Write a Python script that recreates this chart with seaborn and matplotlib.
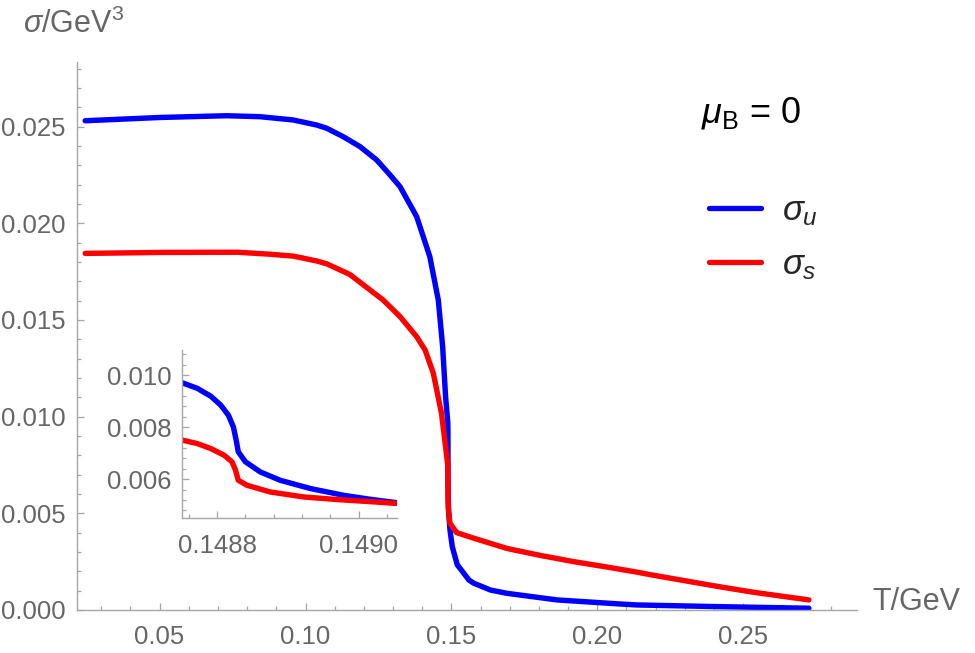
import matplotlib
matplotlib.use("Agg")
import pandas as pd
import seaborn as sns
from matplotlib import pyplot as plt
from matplotlib.ticker import MultipleLocator, FormatStrFormatter

# values
T_u = [0.0245, 0.0502, 0.0730, 0.0844, 0.0958, 0.1038, 0.1073, 0.1130, 0.1187,
       0.1244, 0.1266, 0.1290, 0.1324, 0.1381, 0.1426, 0.1455, 0.1470, 0.1480, 0.14875,
       0.14880, 0.148816, 0.148827, 0.148840, 0.148889, 0.148979, 0.149053,
       0.1495, 0.1503, 0.1520, 0.1560, 0.1577, 0.1634, 0.1691, 0.1862, 0.2077,
       0.2135, 0.2421, 0.2725]
sigma_u = [0.02530, 0.02547, 0.02556, 0.02551, 0.02534, 0.02508, 0.02491, 0.02447, 0.02396,
           0.02327, 0.02290, 0.02249, 0.02189, 0.02034, 0.01827, 0.01603, 0.01361, 0.01103, 0.00970,
           0.00919, 0.00846, 0.00750, 0.00667, 0.00596, 0.00538, 0.00510,
           0.00414, 0.00327, 0.00234, 0.00155, 0.00138, 0.00103, 0.00086, 0.00052, 0.00031,
           0.00026, 0.00017, 0.00009]

T_s = [0.0245, 0.0502, 0.0767, 0.0876, 0.0958, 0.1038, 0.1073, 0.1152, 0.1266, 0.1324, 0.1381,
       0.1410, 0.1438, 0.1466, 0.148751, 0.148810, 0.148821, 0.148830, 0.148875,
       0.148969, 0.149053, 0.1495, 0.1518, 0.1577, 0.1691, 0.1805, 0.1919,
       0.2033, 0.2135, 0.2191, 0.2305, 0.2419, 0.2534, 0.2648, 0.2725]
sigma_s = [0.01844, 0.01849, 0.01850, 0.01840, 0.01830, 0.01805, 0.01790, 0.01735, 0.01603,
           0.01517, 0.01413, 0.01344, 0.01224, 0.01017, 0.00750, 0.00692, 0.00667, 0.00596,
           0.00551, 0.00522, 0.00507, 0.00448, 0.00400, 0.00371, 0.00318, 0.00282, 0.00250,
           0.00222, 0.00196, 0.00180, 0.00150, 0.00120, 0.00092, 0.00068, 0.00052]

# zoom around the transition (inset)
T_in_u = [0.148751, 0.148772, 0.148791, 0.148805, 0.148816, 0.148823, 0.148827, 0.148830,
          0.148840, 0.148861, 0.148889, 0.148932, 0.148979, 0.149016, 0.149053]
sig_in_u = [0.00970, 0.00949, 0.00919, 0.00885, 0.00846, 0.00801, 0.00750, 0.00705,
            0.00667, 0.00628, 0.00596, 0.00564, 0.00538, 0.00523, 0.00510]
T_in_s = [0.148751, 0.148772, 0.148791, 0.148810, 0.148821, 0.148826, 0.148830, 0.148842,
          0.148875, 0.148922, 0.148969, 0.149016, 0.149053]
sig_in_s = [0.00750, 0.00737, 0.00718, 0.00692, 0.00667, 0.00635, 0.00596, 0.00577,
            0.00551, 0.00532, 0.00522, 0.00514, 0.00507]

labels = [r"$\sigma_u$", r"$\sigma_s$"]
colors = {labels[0]: "#0000ff", labels[1]: "#ff0000"}

main_df = pd.concat([
    pd.DataFrame({"T": T_u, "sigma": sigma_u, "q": labels[0]}),
    pd.DataFrame({"T": T_s, "sigma": sigma_s, "q": labels[1]}),
])
inset_df = pd.concat([
    pd.DataFrame({"T": T_in_u, "sigma": sig_in_u, "q": labels[0]}),
    pd.DataFrame({"T": T_in_s, "sigma": sig_in_s, "q": labels[1]}),
])

sns.set_style("ticks")
plt.rcParams["font.family"] = ["Liberation Sans", "DejaVu Sans"]
plt.rcParams["mathtext.fontset"] = "custom"
plt.rcParams["mathtext.rm"] = "Liberation Sans"
plt.rcParams["mathtext.it"] = "Liberation Sans:italic"

axis_col = "#a6a6a6"
label_col = "#666666"
lw = 3.9


def style_axes(ax, fs):
    for side in ["top", "right"]:
        ax.spines[side].set_visible(False)
    for side in ["left", "bottom"]:
        ax.spines[side].set_color(axis_col)
        ax.spines[side].set_linewidth(1.0)
    ax.tick_params(which="both", direction="in", color=axis_col, labelcolor=label_col,
                   labelsize=fs, width=0.9)
    ax.tick_params(which="major", length=5)
    ax.tick_params(which="minor", length=2.8)
    ax.tick_params(axis="y", pad=8)
    ax.tick_params(axis="x", pad=11)
    ax.set_xlabel("")
    ax.set_ylabel("")


fig = plt.figure(figsize=(9.75, 6.53), dpi=100)
ax = fig.add_axes([0.0787, 0.0659, 0.8003, 0.8392])

sns.lineplot(data=main_df, x="T", y="sigma", hue="q", hue_order=labels, palette=colors,
             linewidth=lw, ax=ax, sort=False)
for line in ax.get_lines():
    line.set_solid_joinstyle("round")
ax.set_xlim(0.0216, 0.289)
ax.set_ylim(0, 0.02834)
ax.xaxis.set_major_locator(MultipleLocator(0.05))
ax.xaxis.set_minor_locator(MultipleLocator(0.01))
ax.yaxis.set_major_locator(MultipleLocator(0.005))
ax.yaxis.set_minor_locator(MultipleLocator(0.001))
ax.xaxis.set_major_formatter(FormatStrFormatter("%.2f"))
ax.yaxis.set_major_formatter(FormatStrFormatter("%.3f"))
style_axes(ax, 18.5)

handles, labs = ax.get_legend_handles_labels()
for h in handles:
    h.set_linewidth(3.8)
ax.legend(handles, labs, loc="upper left", bbox_to_anchor=(0.727, 0.703),
          bbox_transform=fig.transFigure, frameon=False, fontsize=25,
          handlelength=1.5, handletextpad=0.6, labelspacing=0.6, borderpad=0,
          borderaxespad=0)

fig.text(0.719, 0.827, r"$\mu_\mathrm{B}$ = 0", fontsize=26, color="black", va="center")
fig.text(23 / 975, 1 - 33 / 653, r"$\sigma$/GeV$^3$", fontsize=22, color=label_col,
         va="baseline", ha="left")
ax.text(1.02, 0.015, "T/GeV", transform=ax.transAxes, fontsize=22, color=label_col,
        va="center", ha="left")

# inset
axin = fig.add_axes([0.187, 0.2063, 0.2202, 0.2577])
sns.lineplot(data=inset_df, x="T", y="sigma", hue="q", hue_order=labels, palette=colors,
             linewidth=lw, ax=axin, sort=False, legend=False)
for line in axin.get_lines():
    line.set_solid_joinstyle("round")
axin.set_xlim(0.148751, 0.149054)
axin.set_ylim(0.0045, 0.01096)
axin.xaxis.set_major_locator(MultipleLocator(0.0002))
axin.xaxis.set_minor_locator(MultipleLocator(0.00004))
axin.yaxis.set_major_locator(MultipleLocator(0.002))
axin.yaxis.set_minor_locator(MultipleLocator(0.0004))
axin.xaxis.set_major_formatter(FormatStrFormatter("%.4f"))
axin.yaxis.set_major_formatter(FormatStrFormatter("%.3f"))
style_axes(axin, 18.5)
axin.patch.set_alpha(0)

fig.savefig("out.png", dpi=100)
